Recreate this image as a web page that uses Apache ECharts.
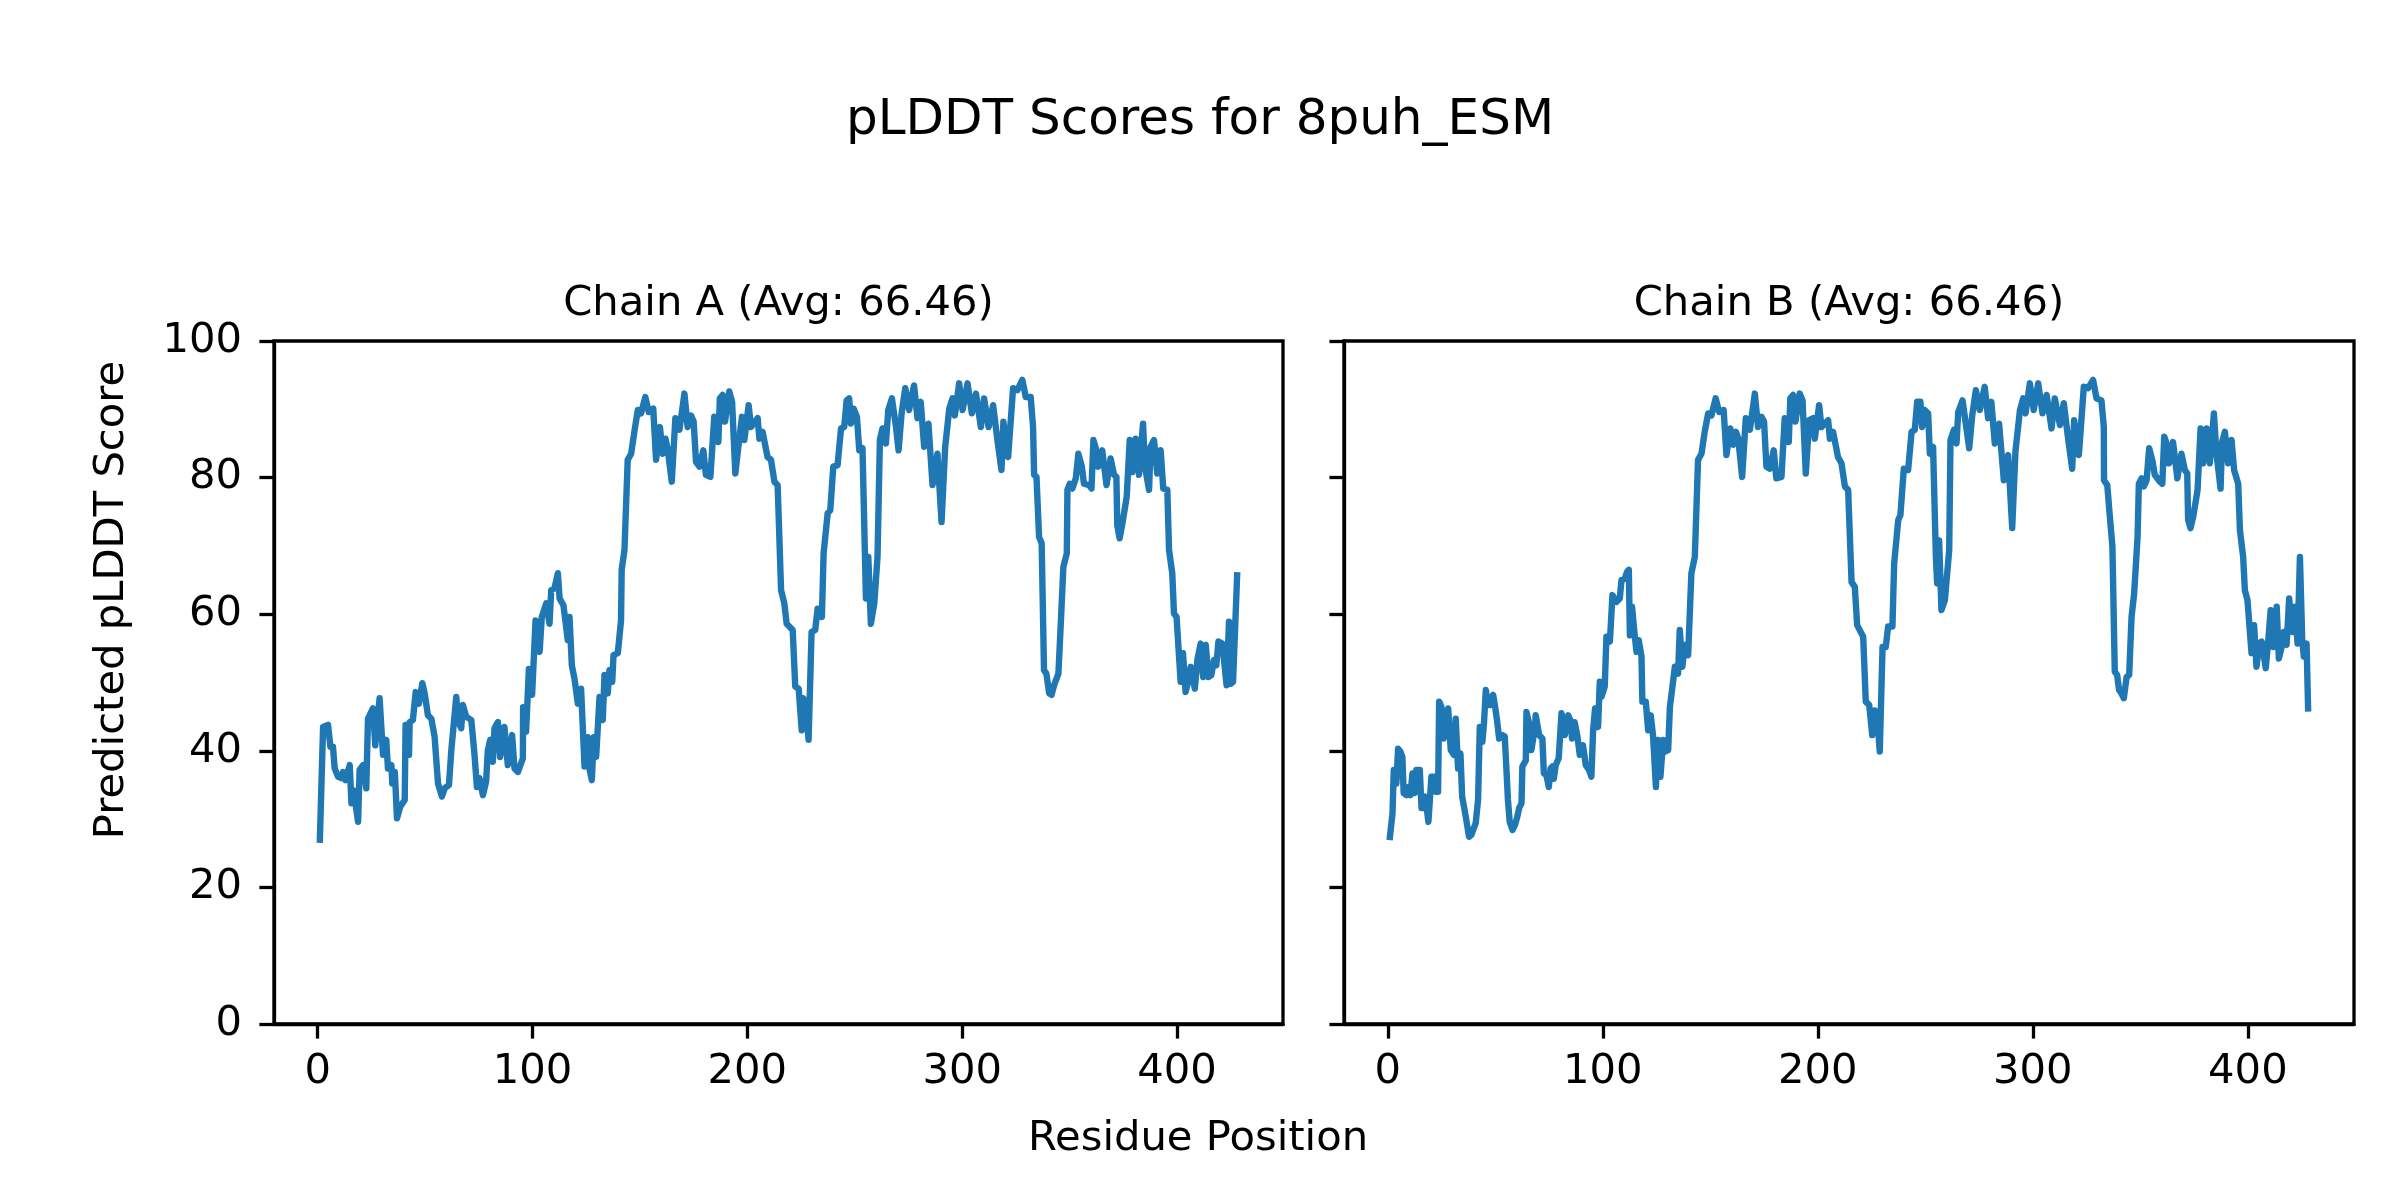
<!DOCTYPE html>
<html>
<head>
<meta charset="utf-8">
<script src="https://cdn.jsdelivr.net/npm/echarts@6/dist/echarts.min.js"></script>
<style>
html,body{margin:0;padding:0;background:#fff;}
#chart{width:2400px;height:1200px;}
</style>
</head>
<body>
<div id="chart"></div>
<script>
// ---- Data ----
const chartTitle = 'pLDDT Scores for 8puh_ESM';
const panelTitles = ['Chain A (Avg: 66.46)', 'Chain B (Avg: 66.46)'];
const xAxisLabel = 'Residue Position';
const yAxisLabel = 'Predicted pLDDT Score';
const xTickValues = [0, 100, 200, 300, 400];
const yTickValues = [0, 20, 40, 60, 80, 100];

const chainAResidues = [1,2.5,4.8,5.9,7.1,7.9,9.5,11,11.8,12.9,14.9,15.7,16.7,18.8,19.5,21.1,22.6,23.4,25.7,26.8,28.8,30.4,31.9,32.7,34.3,34.7,35.9,36.9,38.4,40.5,40.9,42.5,42.8,44.3,45.6,47.1,48.7,49.8,51.3,52.9,54.4,56,57.8,59.1,61.1,62.2,64.5,65.3,66.8,67.6,69.1,71.5,73,74.1,75.3,76.9,78.4,79.2,80.3,81.5,82.3,83.9,84.9,86.9,88.5,89.3,90.5,91.6,93.2,95.5,95.6,97,98.3,99.8,101.4,103.3,104.3,106.4,107.9,108.7,110.2,111.8,112.6,114.4,116.4,117.2,118.3,119.5,121.1,122.6,124.2,125.7,126.5,127.6,128.5,129.6,131.2,132.7,133.5,135,135.8,137.1,137.7,139.7,141.2,141.5,142.8,144.3,145.9,147.4,149,150.5,152.5,154.1,156.2,157.5,159.3,160.6,161.9,163,164.8,166.5,168.4,170.7,172.2,173.8,175,176.1,177.7,179.5,180.7,182.8,184.6,186.5,187.2,188.5,189.6,191.6,192.9,194.4,196,197.5,198.6,200.6,201.7,204.8,205.6,207.1,209.4,211,212.6,214.1,215.7,217.2,218.3,221.1,222.3,223.9,225.3,226,227.3,228.5,229.9,231.6,232.7,234.7,235.5,237.4,238.6,240,242,243.6,245.1,246.2,247.4,248.2,249.5,251,252.1,253.6,255.2,256.3,257.5,259.1,260.6,261.7,262.9,264.5,265.6,267.3,269.2,270.4,271.8,273.5,275.3,277.6,279.2,280.7,282.3,284.3,286.2,288.5,290.4,292.1,294,295.5,296.6,298.6,300.2,302.5,304.5,306.4,308.7,310.2,312.3,314.4,316.4,318.3,319.2,321.4,323.7,325.7,328,329.6,331.9,333,333.5,334.6,335.8,337,338.1,339.2,340.5,341.6,342.8,344.8,345.9,347.1,348.7,349,350.1,351.3,352.9,354.1,355.7,356.7,359.1,360.2,361.1,362.2,363.3,364.4,365.2,367.2,369.1,370.7,371.8,372.2,373.3,374.6,376.6,378,379.2,380.8,382.3,384.2,385.1,387,387.7,389.3,390.8,392.4,393.6,395.5,396.3,397.8,398.6,399.8,401.7,402.8,404,405.3,406.4,408.3,409.5,411,412.2,413.4,414.6,416,417.2,418.3,419.3,421.1,423.1,424.2,425,426.1,428];
const chainAScores = [27,43.5,43.8,40.6,40.6,37.4,36.2,36,36.9,35.7,37.9,32.3,34.2,29.6,37.2,37.9,34.5,44.7,46.2,40.8,47.7,39.4,41.6,37.4,37.9,35.2,36.9,30.1,31.8,32.8,43.8,39.4,44.2,44.5,48.6,46.9,49.9,48.4,45.2,44.7,42.1,35.2,33.3,34.5,35,40.1,47.9,44.5,43.3,46.7,45,44.5,39.4,34.7,36,33.5,35.5,40.1,41.6,38.4,43.3,44.2,39.1,43.5,37.9,38.1,42.3,37.4,36.9,38.9,46.4,42.8,52,48.2,59.1,54.5,59.6,61.6,58.6,63.5,63.8,66,62.3,61.3,56.2,59.6,52.5,50.6,46.9,49.1,37.7,42,37.4,35.7,42,39.1,47.9,44.5,51.1,48.4,51.8,50.1,54,54.3,59.1,66.5,69.4,82.6,83.5,86.7,89.9,89.4,91.8,89.6,90.1,82.6,87.4,83.5,85.7,84,79.4,88.7,87,92.3,87.4,89.1,88.2,82.3,81.6,84,80.4,80.1,88.9,85.2,91.6,92.1,88.2,92.6,91.1,80.6,85,88.9,85.5,90.6,87.4,88.7,85.7,86.7,83,82.6,79.4,78.9,63.5,61.6,58.6,57.7,49.4,49.1,43,47.7,46.9,41.6,57.4,57.7,60.8,59.6,68.9,74.8,75.2,81.6,81.8,87.2,87.4,91.3,91.6,87.9,90.1,88.9,84,84.3,62.3,68.4,58.6,61.6,68.4,85.5,87.2,85,89.9,91.6,87.4,84,89.4,93.1,89.9,93.5,88.7,91.1,84.5,87.9,78.9,83.5,73.5,84.5,90.1,91.6,89.1,93.8,89.9,93.8,89.4,92.3,87.4,91.6,87.4,90.6,85.5,81.1,88.2,83,93.1,92.8,94.3,91.8,91.8,87.4,80.4,80.1,71.3,70.4,51.8,51.3,48.4,48.2,49.6,51.3,58.6,66.9,68.9,78.2,79.1,78.4,79.9,83.5,81.6,79.1,78.9,78.4,85.5,84.3,81.6,82.6,84,78.9,82.8,80.4,80.1,73,71.1,73.3,77.2,85.5,80.8,85.7,80.4,87.9,81.6,78.2,84.5,85.5,80.6,84,78.4,78.2,69.4,66,60.1,59.6,50.1,54.3,48.6,50.3,52.3,49.1,53.3,55.7,50.8,55.5,50.8,51.1,53.3,52.5,56,55.7,49.6,58.9,49.8,50.1,65.7];

const chainBResidues = [1,2.2,2.8,3.3,4,4.8,5.9,6.8,7.4,8.7,9.8,10.5,11.5,12.6,13.3,14.9,15.7,16.7,17.5,18.9,20.3,21.4,22.3,23.4,23.9,25,26,26.9,28.1,29.3,30.7,31.6,32.7,33.8,34.6,36.3,37.8,38.9,40.9,42,42.8,44,44.7,45.6,46.7,47.9,49,49.8,50.8,51.8,53.3,54.4,55.2,55.9,56.7,58,59.1,60.2,61.1,62.2,62.6,64.2,64.5,65.7,66.8,68.4,68.8,70.4,71.9,72.6,73.8,74.9,75.7,76.6,77.2,78.1,79.5,80.8,82.3,83.9,84.9,85.7,86.9,88.2,89.3,90.8,92.1,93.6,94.7,95.5,96.4,97.8,98.6,99.4,100.9,101.7,103.3,104.5,106.4,107.9,108.7,110.2,111.3,112.1,112.6,113.6,114.9,115.7,116.7,118,118.4,120,121.1,122.3,123.4,124.7,125.7,126.8,128.1,129.1,130.4,131.2,132.4,133.5,135,135.8,137,138.1,139.7,141.2,142.8,144.3,145.9,147.4,149,150.5,152.5,154.1,156.2,157.5,159.3,160.6,161.9,163,164.8,166.5,168.4,170.7,172.2,173.8,175,176.1,177.7,179.5,180.7,183.1,184.6,186.5,187.2,188.5,189.6,191.6,192.9,194.4,196,197.9,198.6,200.6,201.7,204.8,205.6,207.1,209.4,211,212.6,214.1,215.7,217.2,218.3,221.1,222.3,223.9,225.3,226.5,227.6,228.8,230.1,231.6,232.7,234.7,235.5,237.4,238.4,240,242,243.6,245.1,246.2,247.7,248.5,249.7,251.3,252.1,253.6,254.9,255.5,256.4,257.5,259.1,261.1,261.7,263.3,264.5,265.3,267.3,269.2,270.4,271.8,273.5,275.3,277.6,279.2,280.7,282.3,284.3,286.5,288.5,290.4,291.9,294,295.5,296.6,298.6,300.4,302.5,304.5,306.4,308.7,310.2,312.6,314.4,316.4,318.3,319.2,321.4,323.7,325.7,328,329.6,331.9,333,333.1,334.6,335.8,337,338.1,339.2,340.1,341.2,342.3,343.6,344.8,345.9,347.1,348.7,349.3,350.6,351.6,352.9,354.1,355.7,356.7,359.1,360.2,361.1,362.2,363.3,364.4,365.2,367.2,369.1,370.7,371.8,372.2,373.3,374.6,376.6,378,379.2,380.8,382.3,384.2,385.4,387.3,388,389.3,390.8,392.4,393.6,395.5,396.3,397.8,398.6,399.8,401.7,402.9,404,405.3,406.4,408.3,409.5,410.6,411.8,413.4,414.4,415.7,416.7,418,419.2,420.8,421.9,423.1,424.2,425.3,426,427.3,428];
const chainBScores = [27.4,30.8,37.2,37.4,35.2,40.3,39.9,39.1,33.8,33.5,34.7,33.5,36.7,33.8,37.2,37.2,31.6,31.6,33.3,29.6,36.2,36.2,34,34,47.2,46.4,41.8,41.8,46.2,40.1,39.4,44.7,37.4,39.6,33.3,30.3,27.4,27.7,29.4,32.8,43.5,41.3,43.8,48.9,46.7,46.7,48.2,46.7,44.5,41.8,42.3,42.1,37.2,32.8,29.6,28.4,29.1,30.3,31.6,32.3,37.7,38.6,45.7,44,40.1,43.3,45.2,42.3,41.8,36.7,36.4,34.7,37.4,37.7,35.9,37.9,38.9,45.5,42.3,45.2,44.5,41.8,44.2,42.1,39.4,40.8,37.9,37.2,36.2,43,46.2,43.5,50.1,47.9,49.4,56.7,56,62.8,61.8,62.3,65,65.2,66.2,66.5,56.9,61.1,56.7,54.5,56.2,53.8,47.2,47.2,43,45.2,42.1,34.7,41.6,36.2,41.6,39.9,40.1,46.4,49.4,52.3,51.3,57.7,52.3,55.5,54,66,68.4,82.6,83.5,86.7,89.4,89.1,91.6,89.6,89.9,83.3,87.2,84.8,86.7,85.7,80.1,88.7,87,92.3,87.4,88.9,88.2,81.6,81.3,84,79.9,80.1,88.7,85.2,91.6,92.1,88.2,92.3,91.3,80.6,88.4,88.7,85.7,90.6,87.4,88.4,85.7,86.7,83,82.1,78.7,78.2,64.7,64,58.4,56.7,47.2,46.7,42.3,45.9,45,39.9,55.2,55.2,58.2,58.2,67.4,73.8,74.5,81.3,81.1,86.7,87,91.1,91.1,87.4,89.9,89.4,83.5,84.5,68.4,64.5,70.8,60.6,62.1,69.4,85.5,87,85,89.6,91.3,87,84.3,89.1,92.8,89.9,93.3,88.7,91.1,85,87.9,79.6,83.3,72.6,83.8,89.9,91.6,89.4,93.8,89.9,93.8,89.4,92.1,87.2,91.6,87.7,90.9,85.7,81.3,88.4,83.3,93.3,93.1,94.3,91.6,91.3,87.4,79.6,78.9,74.3,69.9,51.6,51.1,48.9,48.4,47.7,50.8,51.1,59.6,63,71.3,79.1,79.9,78.7,79.6,84.3,82.3,80.4,79.4,79.1,86,85,82.1,83,85.2,79.9,83.5,81.1,80.6,73.8,72.6,74.3,78.2,87.2,82.1,87.2,82.1,89.4,83.5,78.4,85.2,86.7,82.1,85.5,81.1,79.1,72.3,68.4,63.5,62.1,54.3,58.4,52.3,55.7,56,52.1,56.2,60.6,55.2,61.1,53.5,55.2,57.4,55.5,62.3,57.4,61.1,55.7,68.4,56,53.8,55.7,46.2];

// ---- Build chart ----
const pairs = (xs, ys) => xs.map((x, i) => [x, ys[i]]);
const FONT = "'DejaVu Sans', 'Liberation Sans', sans-serif";
const BLUE = '#1f77b4';
const grids = [
  {left: 274, top: 341, width: 1009, height: 683},
  {left: 1344, top: 341, width: 1010, height: 683}
];

function xAxisFor(i) {
  return {
    type: 'value', gridIndex: i, min: -20.35, max: 449.35,
    axisLine: {show: true, onZero: false, lineStyle: {color: '#000', width: 3.3}},
    axisTick: {show: true, inside: false, length: 14.6, customValues: xTickValues,
               lineStyle: {color: '#000', width: 3.3}},
    axisLabel: {show: true, customValues: xTickValues, fontSize: 41.7, fontFamily: FONT,
                color: '#000', margin: 27},
    splitLine: {show: false}
  };
}
function yAxisFor(i, showLabels) {
  return {
    type: 'value', gridIndex: i, min: 0, max: 100, interval: 20,
    axisLine: {show: true, onZero: false, lineStyle: {color: '#000', width: 3.3}},
    axisTick: {show: true, inside: false, length: 14.6, lineStyle: {color: '#000', width: 3.3}},
    axisLabel: {show: showLabels, fontSize: 41.7, fontFamily: FONT, color: '#000', margin: 32},
    splitLine: {show: false}
  };
}

const chart = echarts.init(document.getElementById('chart'), null, {renderer: 'canvas'});
chart.setOption({
  animation: false,
  backgroundColor: '#ffffff',
  grid: grids.map(g => Object.assign({show: true, borderColor: '#000', borderWidth: 3.3,
                                       backgroundColor: 'transparent'}, g)),
  xAxis: [xAxisFor(0), xAxisFor(1)],
  yAxis: [yAxisFor(0, true), yAxisFor(1, false)],
  series: [
    {name: 'Chain A', type: 'line', xAxisIndex: 0, yAxisIndex: 0,
     data: pairs(chainAResidues, chainAScores), showSymbol: false, symbol: 'none',
     lineStyle: {color: BLUE, width: 6.4, join: 'round', cap: 'square'}},
    {name: 'Chain B', type: 'line', xAxisIndex: 1, yAxisIndex: 1,
     data: pairs(chainBResidues, chainBScores), showSymbol: false, symbol: 'none',
     lineStyle: {color: BLUE, width: 6.4, join: 'round', cap: 'square'}}
  ],
  graphic: [
    {type: 'text', x: 1200, y: 121,
     style: {text: chartTitle, fontSize: 50, fontFamily: FONT, fill: '#000', align: 'center', verticalAlign: 'middle'}},
    {type: 'text', x: 274 + 1009 / 2, y: 304,
     style: {text: panelTitles[0], fontSize: 41.7, fontFamily: FONT, fill: '#000', align: 'center', verticalAlign: 'middle'}},
    {type: 'text', x: 1344 + 1010 / 2, y: 304,
     style: {text: panelTitles[1], fontSize: 41.7, fontFamily: FONT, fill: '#000', align: 'center', verticalAlign: 'middle'}},
    {type: 'text', x: 1198, y: 1139,
     style: {text: xAxisLabel, fontSize: 41.7, fontFamily: FONT, fill: '#000', align: 'center', verticalAlign: 'middle'}},
    {type: 'text', x: 112, y: 600, rotation: Math.PI / 2,
     style: {text: yAxisLabel, fontSize: 41.7, fontFamily: FONT, fill: '#000', align: 'center', verticalAlign: 'middle'}}
  ]
});
</script>
</body>
</html>
